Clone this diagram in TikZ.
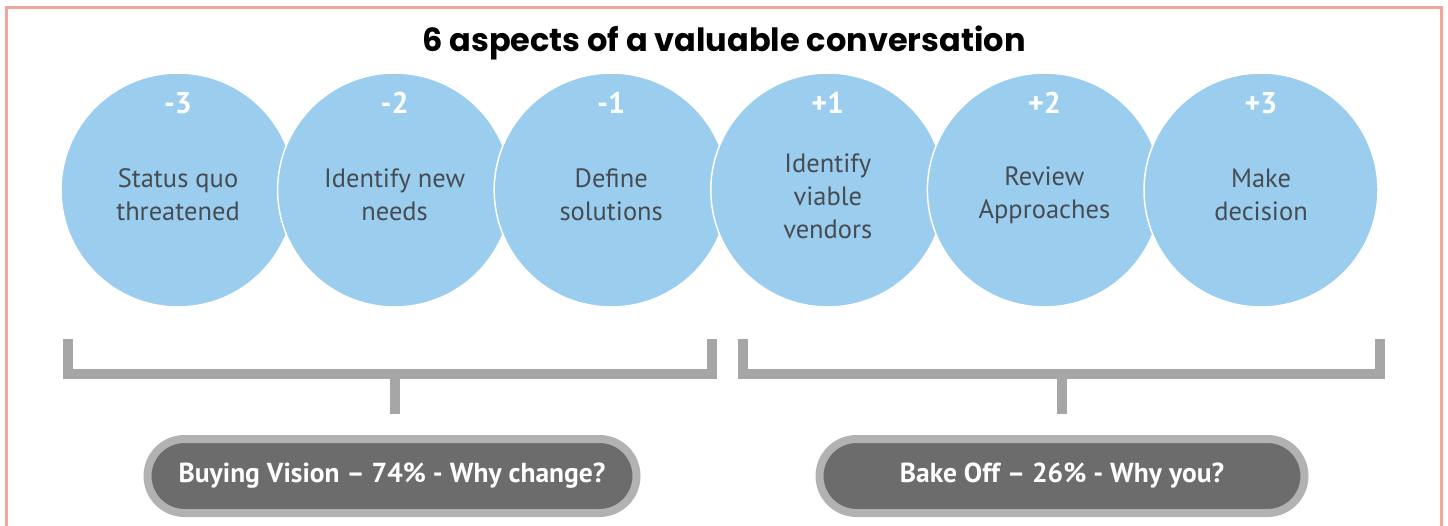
\documentclass[tikz,border=0pt]{standalone}
\usepackage{fontspec}
\setmainfont{PT Sans}
\newfontfamily\titlefont{Poppins}
\usetikzlibrary{calc,positioning}

\definecolor{bubblefill}{RGB}{155,205,238}
\definecolor{bubbletext}{RGB}{70,76,82}
\definecolor{barcolor}{RGB}{166,166,166}
\definecolor{pillrim}{RGB}{178,178,178}
\definecolor{pillfill}{RGB}{108,108,108}
\definecolor{framecolor}{RGB}{242,165,154}

\begin{document}
\begin{tikzpicture} [x=1pt, y=-1pt, node distance=216.6pt,
	bubble/.style={circle, fill=bubblefill, draw=white, line width=1.5pt, minimum size=234pt, inner sep=0pt},
	stage/.style={text=bubbletext, align=center, font=\fontsize{26.5}{33}\selectfont},
	stepnum/.style={text=white, font=\bfseries\fontsize{30}{30}\selectfont},
	bracket/.style={draw=barcolor, line width=10pt},
	pill/.style={draw=pillrim, line width=8pt, fill=pillfill, rounded corners=37pt, minimum width=489pt, minimum height=74pt, inner sep=0pt, text=white, font=\bfseries\fontsize{27.5}{27.5}\selectfont}]
	 	
	 	\useasboundingbox (0,0) rectangle (1448,526);
	 	
	 	\draw [framecolor, line width=3pt] (6,526) -- (6,8) -- (1441,8) -- (1441,526);
	 	
	 	\node (title) at (724,43) {\titlefont\bfseries\fontsize{32}{32}\selectfont 6 aspects of a valuable conversation};
	 	
	 	
	 	\node (S_m3) [bubble] at (178,190) {};
	 	
	 	\node (S_m2) [bubble, right of= S_m3] {};
	 	
	 	\node (S_m1) [bubble, right of= S_m2] {};
	 	
	 	\node (S_p1) [bubble, right of= S_m1] {};
	 	
	 	\node (S_p2) [bubble, right of= S_p1] {};
	 	
	 	\node (S_p3) [bubble, right of= S_p2] {};
	 	
	 	
	 	\node (N_m3) [stepnum] at ($(S_m3) + (0,-87)$) {-3};
	 	\node (T_m3) [stage] at ($(S_m3) + (0,5)$) {Status quo\\threatened};
	 	
	 	\node (N_m2) [stepnum] at ($(S_m2) + (0,-87)$) {-2};
	 	\node (T_m2) [stage] at ($(S_m2) + (0,5)$) {Identify new\\needs};
	 	
	 	\node (N_m1) [stepnum] at ($(S_m1) + (0,-87)$) {-1};
	 	\node (T_m1) [stage] at ($(S_m1) + (0,5)$) {Define\\solutions};
	 	
	 	\node (N_p1) [stepnum] at ($(S_p1) + (0,-87)$) {+1};
	 	\node (T_p1) [stage] at ($(S_p1) + (0,6)$) {Identify\\viable\\vendors};
	 	
	 	\node (N_p2) [stepnum] at ($(S_p2) + (0,-87)$) {+2};
	 	\node (T_p2) [stage] at ($(S_p2) + (0,5)$) {Review\\Approaches};
	 	
	 	\node (N_p3) [stepnum] at ($(S_p3) + (0,-87)$) {+3};
	 	\node (T_p3) [stage] at ($(S_p3) + (0,5)$) {Make\\decision};
	 	
	 	
	 	\node (BV) [pill] at (392,476) {Buying Vision – 74\% - Why change?};
	 	
	 	\node (BO) [pill, minimum width=485pt] at (1062,476) {Bake Off – 26\% - Why you?};
	 	
	 	\coordinate (BV_stem) at (395,374);
	 	
	 	\coordinate (BO_stem) at (1062,374);
	 	
	 	
	 	\draw [bracket] (68,339) |- (712,374) -- (712,339);
	 	
	 	\draw [bracket] (743,339) |- (1380,374) -- (1380,339);
	 	
	 	\draw [bracket, shorten >=21pt] (BV_stem) -- (BV_stem |- BV.north);
	 	
	 	\draw [bracket, shorten >=21pt] (BO_stem) -- (BO_stem |- BO.north);
	 	
	 	
\end{tikzpicture}
\end{document}
